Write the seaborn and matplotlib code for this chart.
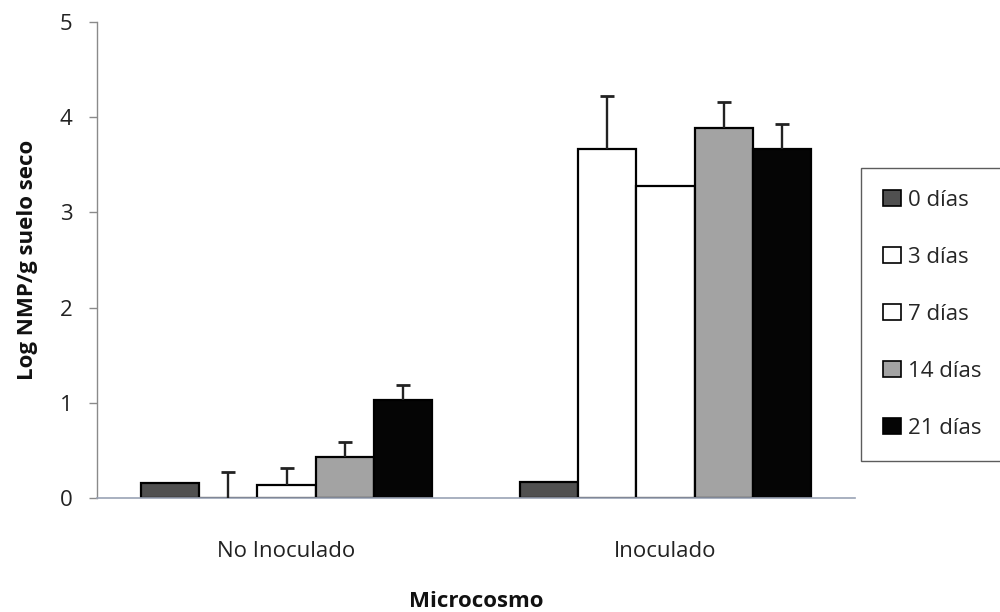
import numpy as np
import pandas as pd
import matplotlib
matplotlib.use("Agg")
import matplotlib.pyplot as plt
import seaborn as sns

# Data: log MPN per gram of dry soil, by microcosm and incubation time
microcosmos = ["No Inoculado", "Inoculado"]
tiempos = ["0 días", "3 días", "7 días", "14 días", "21 días"]
no_inoculado = [0.16, 0.0, 0.14, 0.43, 1.03]
inoculado = [0.17, 3.67, 3.28, 3.89, 3.67]
err_no_inoculado = [0.0, 0.28, 0.18, 0.16, 0.16]
err_inoculado = [0.0, 0.55, 0.0, 0.27, 0.26]
colores = ["#505050", "#ffffff", "#ffffff", "#a3a3a3", "#050505"]

rows = []
for m, vals, errs in [(microcosmos[0], no_inoculado, err_no_inoculado),
                      (microcosmos[1], inoculado, err_inoculado)]:
    for t, v, e in zip(tiempos, vals, errs):
        rows.append({"Microcosmo": m, "Tiempo": t, "valor": v, "err": e})
df = pd.DataFrame(rows)

sns.set_theme(style="white")
plt.rcParams["font.family"] = ["Open Sans", "DejaVu Sans"]

fig = plt.figure(figsize=(10, 6.12), dpi=100)
ax = fig.add_axes([0.097, 0.186, 0.758, 0.778])

sns.barplot(data=df, x="Microcosmo", y="valor", hue="Tiempo",
            order=microcosmos, hue_order=tiempos,
            palette=colores, width=0.77, edgecolor="black", linewidth=1.6,
            errorbar=None, legend=False, ax=ax)

# Upper-only error bars: a stem from the bar top and a cap at the end
for cont, t in zip(ax.containers, tiempos):
    sub = df[df["Tiempo"] == t].set_index("Microcosmo").loc[microcosmos]
    xs = np.array([p.get_x() + p.get_width() / 2 for p in cont.patches])
    ys = sub["valor"].to_numpy()
    es = sub["err"].to_numpy()
    mask = es > 0
    ax.vlines(xs[mask], ys[mask], ys[mask] + es[mask],
              color="#222222", linewidth=1.7, zorder=3)
    ax.plot(xs[mask], ys[mask] + es[mask], linestyle="none", marker="_",
            markersize=10, markeredgewidth=2.0, color="#222222", zorder=3)

ax.set_ylim(0, 5)
ax.set_xlim(-0.5, 1.5)
ax.set_yticks(range(0, 6))
ax.tick_params(axis="y", which="both", left=True, length=5.5, width=1,
               color="#8a8a8a", labelsize=16, pad=12, labelcolor="#222222")
ax.tick_params(axis="x", bottom=False, labelsize=16, pad=25,
               labelcolor="#222222")
for s in ["top", "right"]:
    ax.spines[s].set_visible(False)
ax.spines["left"].set_color("#8a8a8a")
ax.spines["bottom"].set_color("#9aa3b5")
ax.spines["left"].set_linewidth(1)
ax.spines["bottom"].set_linewidth(1.2)

ax.set_ylabel("Log NMP/g suelo seco", fontsize=16, fontweight="bold",
              labelpad=16, color="#111111")
ax.set_xlabel("Microcosmo", fontsize=16, fontweight="bold",
              labelpad=21, color="#111111")

handles = [plt.Rectangle((0, 0), 1, 1, facecolor=c, edgecolor="black",
                         linewidth=1.2) for c in colores]
leg = fig.legend(handles, tiempos, loc="upper left",
                 bbox_to_anchor=(0.861, 0.726), frameon=True, fancybox=False,
                 fontsize=16, handlelength=0.8, handleheight=0.75,
                 handletextpad=0.3, labelspacing=1.62, borderpad=1.0,
                 borderaxespad=0)
leg.get_frame().set_edgecolor("#333333")
leg.get_frame().set_linewidth(1.0)

fig.savefig("out.png", dpi=100)
